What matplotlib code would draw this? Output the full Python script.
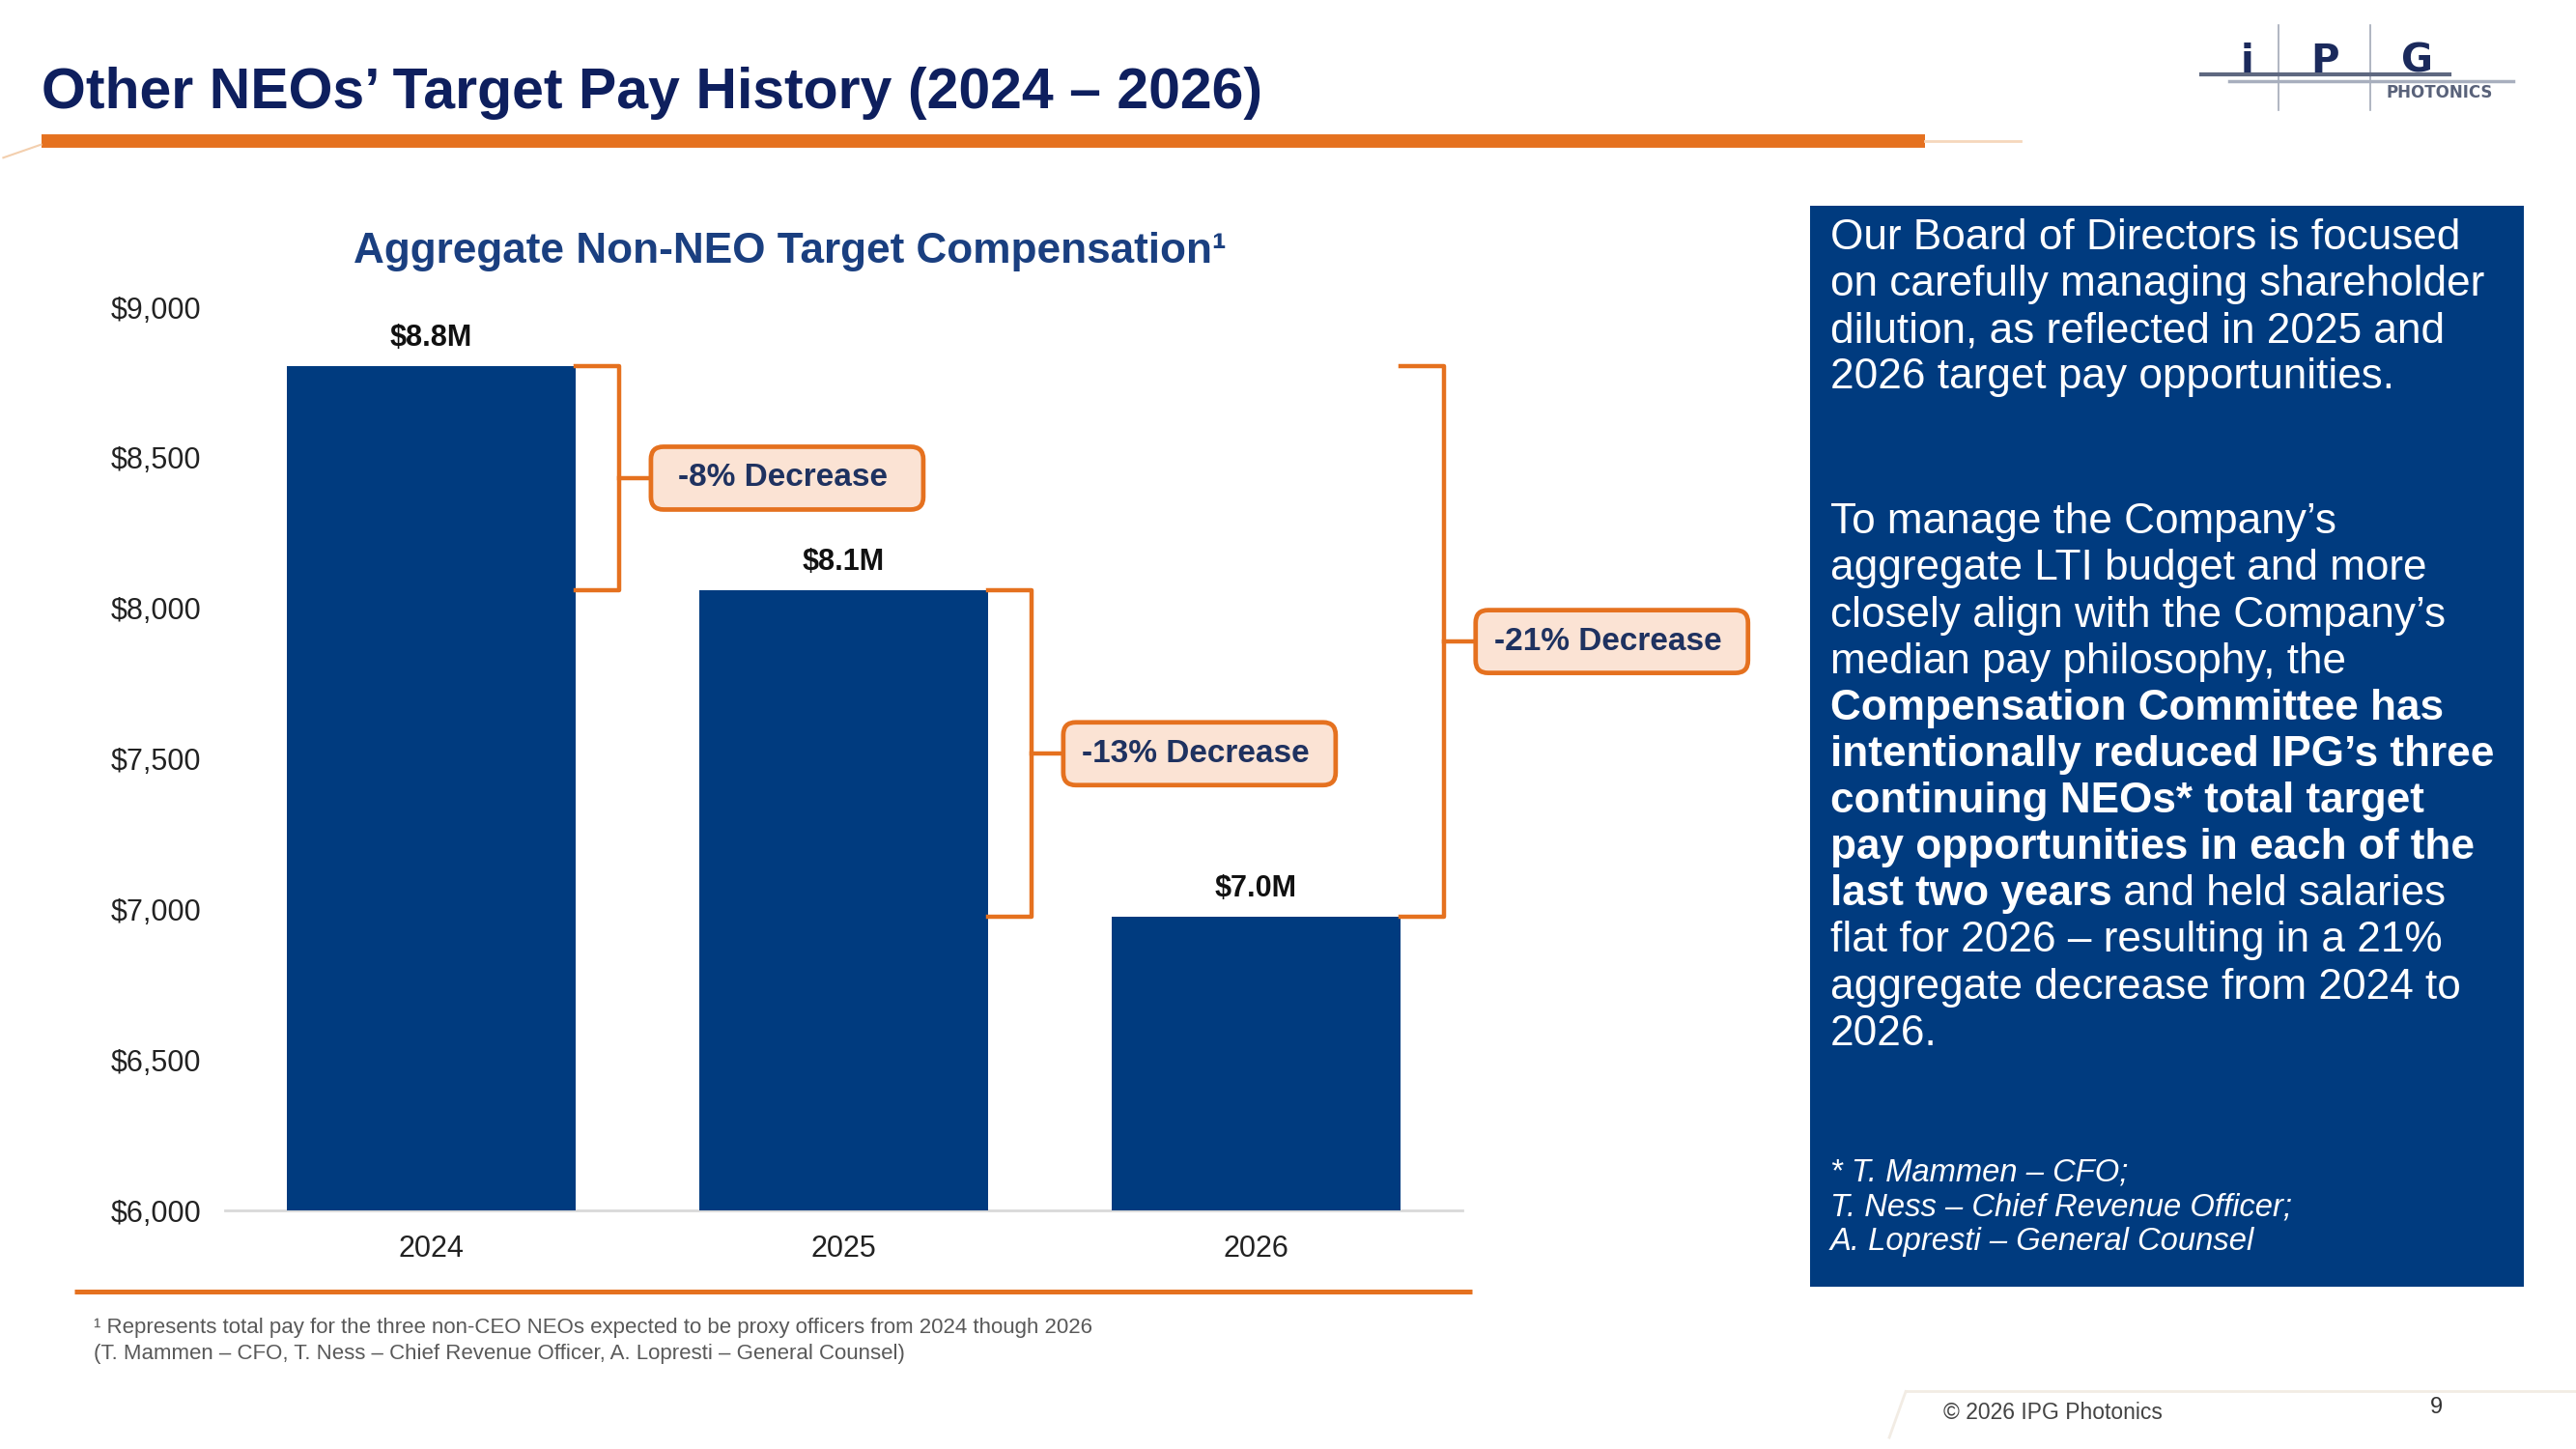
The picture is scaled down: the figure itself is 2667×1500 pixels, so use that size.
import matplotlib
matplotlib.use("Agg")
import matplotlib.pyplot as plt
from matplotlib.patches import FancyBboxPatch, Rectangle
from matplotlib.transforms import ScaledTranslation
from matplotlib.lines import Line2D

# --- data ---------------------------------------------------------------
years = ["2024", "2025", "2026"]
target_pay = [8805, 8060, 6975]          # aggregate target pay, $ thousands
bar_labels = ["$8.8M", "$8.1M", "$7.0M"]
y_ticks = [6000, 6500, 7000, 7500, 8000, 8500, 9000]
y_tick_labels = ["$6,000", "$6,500", "$7,000", "$7,500", "$8,000", "$8,500", "$9,000"]

# brackets: from bar, to bar, bar the bracket sits beside, label
bracket_from = [0, 1, 0]
bracket_to = [1, 2, 2]
bracket_side = [0, 1, 2]
bracket_text = ["-8% Decrease", "-13% Decrease", "-21% Decrease"]

box_para1 = [
    "Our Board of Directors is focused",
    "on carefully managing shareholder",
    "dilution, as reflected in 2025 and",
    "2026 target pay opportunities.",
]
# each line is a list of (text, bold)
box_para2 = [
    [("To manage the Company\u2019s", False)],
    [("aggregate LTI budget and more", False)],
    [("closely align with the Company\u2019s", False)],
    [("median pay philosophy, the", False)],
    [("Compensation Committee has", True)],
    [("intentionally reduced IPG\u2019s three", True)],
    [("continuing NEOs* total target", True)],
    [("pay opportunities in each of the", True)],
    [("last two years", True), (" and held salaries", False)],
    [("flat for 2026 \u2013 resulting in a 21%", False)],
    [("aggregate decrease from 2024 to", False)],
    [("2026.", False)],
]
box_notes = [
    "* T. Mammen \u2013 CFO;",
    "T. Ness \u2013 Chief Revenue Officer;",
    "A. Lopresti \u2013 General Counsel",
]
footnotes = [
    "\u00b9 Represents total pay for the three non-CEO NEOs expected to be proxy officers from 2024 though 2026",
    "(T. Mammen \u2013 CFO, T. Ness \u2013 Chief Revenue Officer, A. Lopresti \u2013 General Counsel)",
]

# --- style --------------------------------------------------------------
NAVY = "#003B7F"
DARK_NAVY = "#0E1F5E"
TITLE_BLUE = "#1A3F80"
ORANGE = "#E5711F"
PEACH = "#FBE3D4"
plt.rcParams["font.family"] = ["Liberation Sans", "DejaVu Sans"]

W, H = 1568, 882   # layout grid of the slide


def fx(x):
    return x / W


def fy(y):
    return 1 - y / H


fig = plt.figure(figsize=(26.67, 15), dpi=100)
fig.patch.set_facecolor("white")

# header
fig.text(fx(25), fy(56.5), "Other NEOs\u2019 Target Pay History (2024 \u2013 2026)",
         fontsize=42.5, fontweight="bold", color=DARK_NAVY, ha="left", va="center")
fig.add_artist(Line2D([fx(25), fx(1172)], [fy(86), fy(86)], color=ORANGE, lw=10,
                      solid_capstyle="butt"))
fig.add_artist(Line2D([fx(1172), fx(1230)], [fy(86), fy(86)], color="#F6D7BC", lw=2))
fig.add_artist(Line2D([fx(2), fx(25)], [fy(96), fy(88)], color="#F3CFAE", lw=1.5))

# logo
for xv in (1387, 1443):
    fig.add_artist(Line2D([fx(xv), fx(xv)], [fy(15), fy(67)], color="#A3A9B8", lw=1.2))
fig.add_artist(Line2D([fx(1340), fx(1491)], [fy(45), fy(45)], color="#5E6880", lw=3))
fig.add_artist(Line2D([fx(1357), fx(1530)], [fy(49.5), fy(49.5)], color="#A8AFBE", lw=2.5))
for letter, xv in zip(["i", "P", "G"], [1368, 1415, 1471]):
    fig.text(fx(xv), fy(44), letter, fontsize=29, fontweight="heavy", color="#1B2A5C",
             ha="center", va="baseline", family="DejaVu Sans")
fig.text(fx(1485), fy(56.5), "PHOTONICS", fontsize=12, fontweight="bold", color="#59627A",
         ha="center", va="center", family="DejaVu Sans")

# chart
ax = fig.add_axes([fx(137), fy(737), (890 - 137) / W, (737 - 187) / H])
ax.patch.set_alpha(0)
x = list(range(len(years)))
ax.bar(x, target_pay, width=0.7, color=NAVY, zorder=3)

for i, (v, lab) in enumerate(zip(target_pay, bar_labels)):
    ax.annotate(lab, (i, v), xytext=(0, 21), textcoords="offset points",
                ha="center", va="center", fontsize=22, fontweight="bold", color="#111111")

for i0, i1, side, lab in zip(bracket_from, bracket_to, bracket_side, bracket_text):
    x0 = side + 0.35
    xb = x0 + 0.105
    ytop, ybot = target_pay[i0], target_pay[i1]
    mid = (ytop + ybot) / 2
    ax.plot([x0, xb, xb, x0], [ytop, ytop, ybot, ybot], color=ORANGE, lw=3.2,
            solid_joinstyle="round", clip_on=False, zorder=4)
    ax.plot([xb, xb + 0.077], [mid, mid], color=ORANGE, lw=3.2, clip_on=False, zorder=4)
    cx = xb + 0.077 + 0.331
    trans = fig.dpi_scale_trans + ScaledTranslation(cx, mid, ax.transData)
    box = FancyBboxPatch((-1.41, -0.325), 2.82, 0.65,
                         boxstyle="round,pad=0,rounding_size=0.13",
                         fc=PEACH, ec=ORANGE, lw=3.4, transform=trans,
                         clip_on=False, zorder=5)
    ax.add_patch(box)
    ax.text(cx - 0.01, mid, lab, ha="center", va="center", fontsize=24, fontweight="bold",
            color="#1F3260", zorder=6, clip_on=False)

ax.set_xlim(-0.5, 2.5)
ax.set_ylim(6000, 9000)
ax.set_xticks(x, years)
ax.set_yticks(y_ticks, y_tick_labels)
ax.tick_params(axis="y", length=0, pad=18, labelsize=22, labelcolor="#222222")
ax.tick_params(axis="x", length=0, pad=18, labelsize=22, labelcolor="#222222")
for s in ("top", "right", "left"):
    ax.spines[s].set_visible(False)
ax.spines["bottom"].set_color("#D9D9D9")
ax.spines["bottom"].set_linewidth(2)

fig.text(fx(481), fy(153), "Aggregate Non-NEO Target Compensation\u00b9",
         fontsize=31.8, fontweight="bold", color=TITLE_BLUE, ha="center", va="center")

# bottom rule and footnote
fig.add_artist(Line2D([fx(45), fx(896)], [fy(786), fy(786)], color=ORANGE, lw=3.6,
                      solid_capstyle="butt"))
for k, line in enumerate(footnotes):
    fig.text(fx(57), fy(808 + 16 * k), line, fontsize=16, color="#595959",
             ha="left", va="center")

# side panel
fig.add_artist(Rectangle((fx(1102), fy(783)), (1536 - 1102) / W, (783 - 125) / H,
                         transform=fig.transFigure, fc=NAVY, ec="none"))
TX = fx(1114)
STEP = 28.3
FS = 31.8
for k, line in enumerate(box_para1):
    fig.text(TX, fy(145 + STEP * k), line, fontsize=FS, color="white",
             ha="left", va="center")
for k, segs in enumerate(box_para2):
    prev = None
    for txt, bold in segs:
        w = "bold" if bold else "normal"
        if prev is None:
            prev = fig.text(TX, fy(318 + STEP * k), txt, fontsize=FS, color="white",
                            fontweight=w, ha="left", va="center")
        else:
            prev = fig.add_artist(plt.Annotation(txt, xy=(1, 0), xycoords=prev,
                                                 fontsize=FS, color="white", fontweight=w,
                                                 ha="left", va="bottom"))
for k, line in enumerate(box_notes):
    fig.text(TX, fy(714 + 21 * k), line, fontsize=23.6, color="white", style="italic",
             ha="left", va="center")

# footer
fig.add_artist(Line2D([fx(1160), fx(1568)], [fy(847), fy(847)], color="#F2ECE4", lw=2))
fig.add_artist(Line2D([fx(1150), fx(1160)], [fy(875), fy(847)], color="#F2ECE4", lw=2))
fig.text(fx(1183), fy(860), "\u00a9 2026 IPG Photonics", fontsize=16.5, color="#444444",
         ha="left", va="center")
fig.text(fx(1483), fy(857), "9", fontsize=17, color="#333333", ha="center", va="center")

fig.savefig("out.png", dpi=100, facecolor="white")
